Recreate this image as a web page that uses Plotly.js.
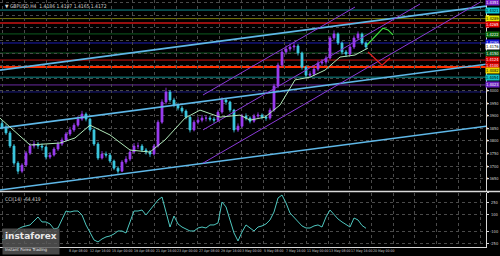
<!DOCTYPE html>
<html><head><meta charset="utf-8">
<script src="https://cdn.plot.ly/plotly-3.0.1.min.js"></script>
<style>html,body{margin:0;padding:0;background:#000;}#c{width:500px;height:256px;}</style>
</head><body><div id="c"></div>
<script>
// ---- DATA ----
const openP  = [1.3870,1.3855,1.3832,1.3780,1.3712,1.3680,1.3704,1.3752,1.3780,1.3788,1.3780,1.3776,1.3736,1.3744,1.3768,1.3788,1.3804,1.3828,1.3844,1.3863,1.3887,1.3907,1.3887,1.3844,1.3788,1.3732,1.3748,1.3744,1.3720,1.3692,1.3680,1.3716,1.3728,1.3756,1.3780,1.3780,1.3764,1.3756,1.3748,1.3780,1.3875,1.3955,1.3995,1.3963,1.3943,1.3931,1.3919,1.3895,1.3844,1.3875,1.3883,1.3891,1.3891,1.3887,1.3883,1.3915,1.3963,1.3955,1.3923,1.3844,1.3859,1.3899,1.3891,1.3879,1.3899,1.3903,1.3895,1.3891,1.3923,1.4019,1.4102,1.4154,1.4166,1.4174,1.4178,1.4150,1.4094,1.4062,1.4066,1.4086,1.4110,1.4114,1.4130,1.4210,1.4226,1.4190,1.4154,1.4146,1.4174,1.4210,1.4226,1.4190];
const highP  = [1.3882,1.3866,1.3840,1.3788,1.3720,1.3712,1.3760,1.3792,1.3802,1.3796,1.3790,1.3782,1.3756,1.3776,1.3798,1.3814,1.3836,1.3856,1.3872,1.3900,1.3920,1.3914,1.3892,1.3850,1.3796,1.3760,1.3758,1.3752,1.3726,1.3700,1.3724,1.3740,1.3766,1.3792,1.3794,1.3788,1.3772,1.3764,1.3788,1.3884,1.3966,1.4012,1.4002,1.3972,1.3952,1.3940,1.3926,1.3900,1.3884,1.3896,1.3904,1.3902,1.3900,1.3896,1.3924,1.3974,1.3970,1.3960,1.3928,1.3870,1.3908,1.3910,1.3898,1.3908,1.3914,1.3910,1.3902,1.3932,1.4028,1.4112,1.4166,1.4180,1.4188,1.4194,1.4186,1.4156,1.4100,1.4078,1.4096,1.4120,1.4126,1.4140,1.4218,1.4240,1.4232,1.4196,1.4162,1.4182,1.4220,1.4236,1.4232,1.4196];
const lowP   = [1.3846,1.3824,1.3772,1.3702,1.3668,1.3672,1.3698,1.3744,1.3770,1.3768,1.3762,1.3726,1.3728,1.3738,1.3760,1.3780,1.3798,1.3820,1.3836,1.3856,1.3880,1.3878,1.3836,1.3780,1.3724,1.3726,1.3734,1.3712,1.3684,1.3670,1.3676,1.3708,1.3720,1.3750,1.3768,1.3756,1.3746,1.3736,1.3742,1.3774,1.3868,1.3946,1.3954,1.3934,1.3922,1.3910,1.3886,1.3834,1.3838,1.3866,1.3874,1.3878,1.3878,1.3872,1.3876,1.3908,1.3944,1.3914,1.3834,1.3836,1.3852,1.3882,1.3870,1.3872,1.3890,1.3886,1.3880,1.3884,1.3916,1.4010,1.4094,1.4144,1.4156,1.4160,1.4140,1.4084,1.4050,1.4054,1.4058,1.4078,1.4100,1.4104,1.4124,1.4200,1.4182,1.4144,1.4134,1.4140,1.4166,1.4202,1.4182,1.4164];
const closeP = [1.3855,1.3832,1.3780,1.3712,1.3680,1.3704,1.3752,1.3780,1.3788,1.3780,1.3776,1.3736,1.3744,1.3768,1.3788,1.3804,1.3828,1.3844,1.3863,1.3887,1.3907,1.3887,1.3844,1.3788,1.3732,1.3748,1.3744,1.3720,1.3692,1.3680,1.3716,1.3728,1.3756,1.3780,1.3780,1.3764,1.3756,1.3748,1.3780,1.3875,1.3955,1.3995,1.3963,1.3943,1.3931,1.3919,1.3895,1.3844,1.3875,1.3883,1.3891,1.3891,1.3887,1.3883,1.3915,1.3963,1.3955,1.3923,1.3844,1.3859,1.3899,1.3891,1.3879,1.3899,1.3903,1.3895,1.3891,1.3923,1.4019,1.4102,1.4154,1.4166,1.4174,1.4178,1.4150,1.4094,1.4062,1.4066,1.4086,1.4110,1.4114,1.4130,1.4210,1.4226,1.4190,1.4154,1.4146,1.4174,1.4210,1.4226,1.4190,1.4174];

const maBar = [-0.5,7,14.5,18.25,22,27,32,37,40.75,45.75,49.5,54.5,59.5,62,65.75,69.5,73.25,77,80.75,84.5,88.25,91.5];
const maVal = [1.3891,1.3784,1.3792,1.3812,1.3863,1.3824,1.3764,1.3756,1.3804,1.3891,1.3923,1.3895,1.3903,1.3883,1.3895,1.3943,1.4043,1.4054,1.4082,1.4134,1.4142,1.4170];

const cci = [-205,-193,-157,-121,-73,-49,-36,-24,24,72,12,12,-12,-73,-61,36,144,132,144,144,96,-24,-121,-205,-229,-193,-169,-157,-133,-97,-97,-121,12,144,144,156,96,156,229,277,313,144,-49,84,-12,-49,-73,-97,-97,-61,-49,-61,-24,-24,0,253,193,36,-121,-217,-109,-24,-61,-97,-49,-36,-12,36,132,301,337,241,120,72,24,-36,-61,-61,-36,-24,-49,72,156,96,48,12,-24,-49,60,36,-30,-64.4];

// trend channel (light blue), endpoints
const chanBar   = [-0.5, 121.25];
const chanUpper = [1.4082, 1.4337];
const chanMid   = [1.3851, 1.4106];
const chanLow   = [1.3605, 1.3859];
// purple rising channel
const purpBar1 = [50.25, 119.5], purpLow = [1.3712, 1.4352];
const purpBar2 = [50.25, 104.5], purpMid = [1.3844, 1.4345];
const purpBar3 = [50.25, 88.25], purpTop = [1.3983, 1.4333];
// forecast arrows
const upBar = [91.25, 95.25, 96.5, 97.75], upVal = [1.4182, 1.4249, 1.4242, 1.4222];
const dnBar = [91.5, 95, 97], dnVal = [1.4154, 1.4102, 1.4130];

// horizontal levels
const levelPrice = [1.4321, 1.4287, 1.4269, 1.4226, 1.4190, 1.4150, 1.4122, 1.4094, 1.4054, 1.4023, 1.3995];
const levelColor = ['#0f8c8c','#7a7a10','#c81414','#0d5a20','#1c1cb4','#0d5a20','#c81414','#ff3000','#0f8c8c','#6a2aa0','#1c1c80'];
const levelWidth = [1,1,1.5,1,1,1,1,2,1,1,1];

// right-side price boxes
const boxPrice = [1.4351, 1.4321, 1.4289, 1.4265, 1.4222, 1.4190, 1.4176, 1.4150, 1.4124, 1.4100, 1.4082, 1.4054, 1.4023];
const boxText  = ['1.4351','1.4321','1.4289','1.4265','1.4222','1.4190','1.4176','1.4150','1.4124','1.4100','1.4082','1.4054','1.4023'];
const boxBg    = ['#7a22c8','#10c8d0','#e8e800','#e00000','#0a6a0a','#1010d0','#ffffff','#0a5a18','#d80000','#d80000','#e8d800','#10c0c8','#6a22c0'];
const boxFg    = ['#fff','#000','#000','#fff','#fff','#fff','#000','#fff','#fff','#fff','#000','#000','#fff'];

const priceTicks = [1.3650,1.3700,1.3750,1.3800,1.3850,1.3900,1.3950,1.4000];
const cciTicks = [361.5494, 250, 100, -100, -250];
const cciTickText = ['361.5494','250','100','-100','-250'];

// visible time labels (the first ones are hidden under the logo)
const timeLabels = ['8 Apr 08:00','12 Apr 16:00','15 Apr 00:00','19 Apr 08:00','21 Apr 16:00','23 Apr 00:00','27 Apr 08:00','29 Apr 16:00','3 May 00:00','5 May 08:00','7 May 16:00','11 May 00:00','13 May 08:00','17 May 16:00','20 May 00:00'];

// ---- BUILD ----
const bars = closeP.map((_, i) => i);
const gridStep = 5.425, grid0 = 0.15, firstLabel = 3;
const gridX = [];
for (let k = 0; k < 23; k++) gridX.push(grid0 + gridStep * k);
const gridY = [];
for (let v = 1.3650; v < 1.4360; v += 0.0050) gridY.push(+v.toFixed(4));

const F = 'Liberation Sans Narrow, DejaVu Sans Condensed, Arial, sans-serif';
const XR = 0.972;
const traces = [];
function line(x, y, color, width, dash, yaxis) {
  traces.push({type:'scatter', mode:'lines', x:x, y:y, line:{color:color, width:width, dash:dash||'solid'},
    hoverinfo:'skip', showlegend:false, xaxis:'x', yaxis:yaxis||'y'});
}
line(chanBar, chanUpper, '#5fb8e8', 1.6);
line(chanBar, chanMid, '#5fb8e8', 1.6);
line(chanBar, chanLow, '#5fb8e8', 1.6);
line(purpBar1, purpLow, '#8a3ad8', 1);
line(purpBar2, purpMid, '#8a3ad8', 1);
line(purpBar3, purpTop, '#8a3ad8', 1);
line(maBar, maVal, '#b0e8b8', 1);
traces.push({type:'candlestick', x:bars, open:openP, high:highP, low:lowP, close:closeP,
  increasing:{line:{color:'#9a3cf0', width:0.8}, fillcolor:'#9a3cf0'},
  decreasing:{line:{color:'#3cc8e0', width:0.8}, fillcolor:'#3cc8e0'},
  whiskerwidth:0, hoverinfo:'skip', showlegend:false, xaxis:'x', yaxis:'y'});
line(upBar, upVal, '#40e040', 1.2);
line(dnBar, dnVal, '#e02020', 1.2);
line(bars, cci, '#4fc8c0', 1, 'solid', 'y2');

const shapes = levelPrice.map((p, i) => ({type:'line', xref:'paper', x0:0, x1:XR, yref:'y', y0:p, y1:p,
  line:{color:levelColor[i], width:levelWidth[i]}, layer:'below'}));
shapes.push({type:'line', xref:'paper', x0:0, x1:1, yref:'paper', y0:0.2520, y1:0.2520, line:{color:'#d8d8d8', width:1.5}});

const ann = [];
priceTicks.forEach(v => ann.push({xref:'paper', x:0.999, xanchor:'right', yref:'y', y:v, yanchor:'middle',
  text:v.toFixed(4), showarrow:false, borderpad:0, font:{family:F, size:4, color:'#d0d0d0'}}));
cciTicks.forEach((v, i) => ann.push({xref:'paper', x:0.999, xanchor:'right', yref:'y2', y:v, yanchor:'middle',
  text:cciTickText[i], showarrow:false, borderpad:0, font:{family:F, size:4, color:'#d0d0d0'}}));
boxPrice.forEach((p, i) => ann.push({xref:'paper', x:1, xanchor:'right', yref:'y', y:p, yanchor:'middle',
  text:boxText[i], showarrow:false, bgcolor:boxBg[i], borderpad:0,
  font:{family:F, size:4, color:boxFg[i]}}));
timeLabels.forEach((t, k) => ann.push({xref:'x', x:gridX[k + firstLabel], xanchor:'left', yref:'paper', y:0.006, yanchor:'bottom',
  text:t, showarrow:false, borderpad:0, font:{family:F, size:3.5, color:'#c8c8c8'}}));
ann.push({xref:'paper', x:0.006, xanchor:'left', yref:'paper', y:0.998, yanchor:'top',
  text:'▼ GBPUSD,H4  1.4186 1.4197 1.4165 1.4172', showarrow:false, font:{family:F, size:5, color:'#d0d0d0'}});
ann.push({xref:'paper', x:0.006, xanchor:'left', yref:'paper', y:0.243, yanchor:'top',
  text:'CCI(14) -64.419', showarrow:false, font:{family:F, size:5, color:'#d0d0d0'}});
ann.push({xref:'paper', x:0.004, xanchor:'left', yref:'paper', y:0.002, yanchor:'bottom',
  text:'<b>instaforex</b><br><span style="font-size:4px">Instant Forex Trading</span>', showarrow:false, align:'left',
  bgcolor:'rgba(90,90,90,0.8)', borderpad:2, font:{family:'DejaVu Sans, sans-serif', size:9, color:'#e8e8e8'}});

const layout = {
  width:500, height:256, margin:{l:0, r:0, t:0, b:0},
  paper_bgcolor:'#000', plot_bgcolor:'#000', showlegend:false,
  font:{family:F, size:4, color:'#ccc'},
  xaxis:{domain:[0,XR], range:[-0.5,121], anchor:'y2', tickvals:gridX, showticklabels:false,
    showgrid:true, gridcolor:'#4a4a4a', griddash:'dot', gridwidth:1, zeroline:false,
    showline:true, linecolor:'#d8d8d8', linewidth:1, ticks:'', rangeslider:{visible:false}, fixedrange:true},
  yaxis:{domain:[0.2539,1], range:[1.3601,1.4361], side:'right', anchor:'x', tickvals:gridY, showticklabels:false,
    showgrid:true, gridcolor:'#4a4a4a', griddash:'dot', zeroline:false, showline:true, linecolor:'#d8d8d8',
    ticks:'outside', ticklen:2, tickcolor:'#d8d8d8', automargin:false, fixedrange:true},
  yaxis2:{domain:[0.0352,0.2461], range:[-290,361.5], side:'right', anchor:'x', tickvals:cciTicks, showticklabels:false,
    showgrid:true, gridcolor:'#4a4a4a', griddash:'dot', zeroline:false, showline:true, linecolor:'#d8d8d8',
    ticks:'outside', ticklen:2, tickcolor:'#d8d8d8', automargin:false, fixedrange:true},
  shapes:shapes, annotations:ann
};
Plotly.newPlot('c', traces, layout, {staticPlot:true, displayModeBar:false});
</script></body></html>
